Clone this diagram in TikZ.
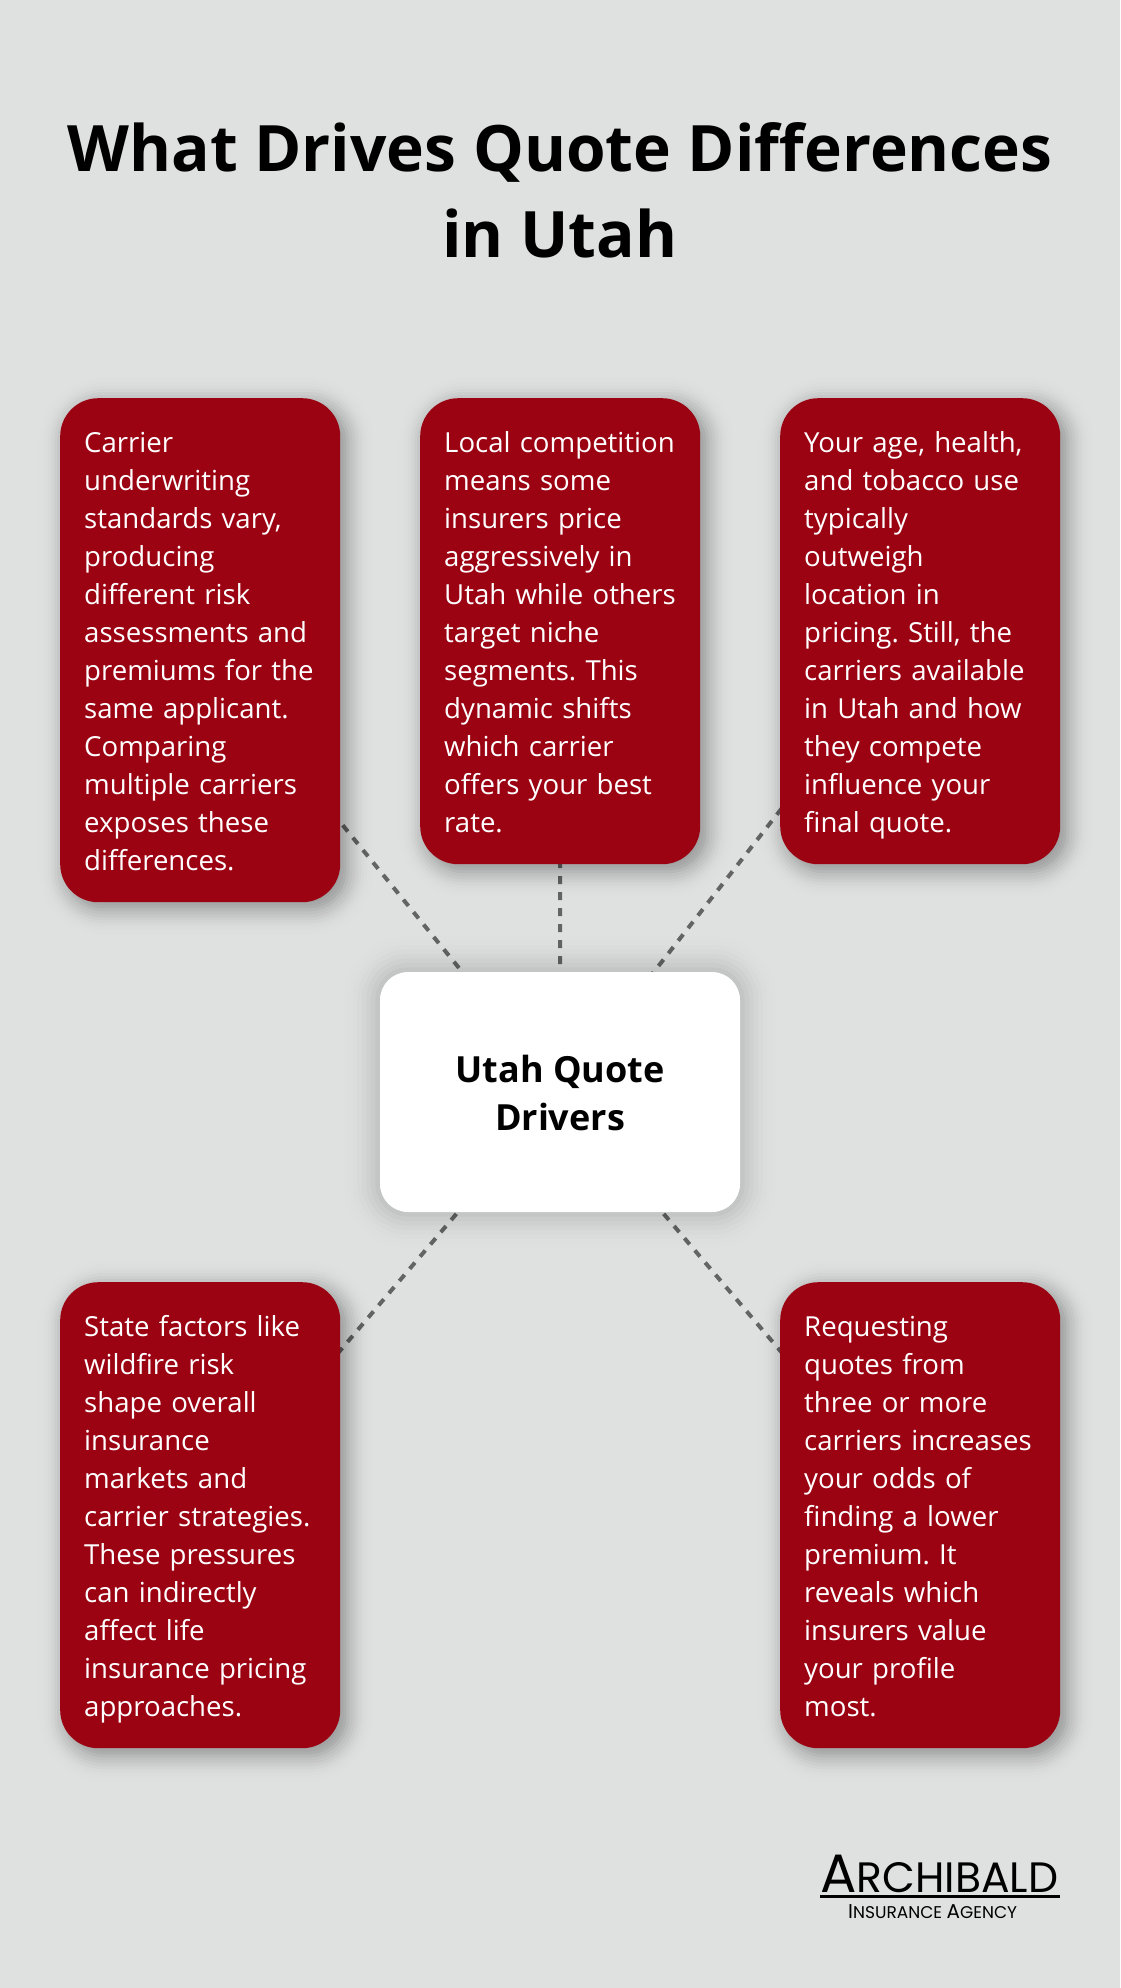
\documentclass[tikz,border=0pt]{standalone}
\usepackage{fontspec}
\setmainfont{Open Sans}
\newfontfamily\logofont{Poppins}
\pgfdeclarelayer{base}
\pgfdeclarelayer{links}
\pgfdeclarelayer{shadows}
\pgfsetlayers{base,links,shadows,main}
\definecolor{bgc}{HTML}{DFE1E0}
\definecolor{cardred}{HTML}{9B0313}
\definecolor{linkc}{HTML}{646464}
\tikzset{
  card/.style={fill=cardred,text=white,rounded corners=38pt,minimum width=280pt,anchor=north west,
    inner xsep=24pt,inner ysep=24pt,text width=232pt,align=left,
    font=\fontsize{27.6}{38}\selectfont,
    execute at begin node={\frenchspacing\rightskip=-20pt plus 1fil\relax\hyphenpenalty=10000\relax\rule{0pt}{30pt}},execute at end node={\rule[-8pt]{0pt}{8pt}}},
  hub/.style={fill=white,text=black,rounded corners=28pt,minimum width=360pt,minimum height=240pt,
    align=center,font=\fontsize{36}{48}\selectfont\bfseries},
  link/.style={draw=linkc,line width=4pt,dash pattern=on 8pt off 8pt},
  titletext/.style={align=center,font=\fontsize{64}{86}\selectfont\bfseries,text=black,inner sep=0pt},
}
\newcommand{\softshadow}[6]{% node, dx, dy, sigma, alpha, radius
  \begin{pgfonlayer}{shadows}
  \foreach \i in {-10,...,10}{
    \pgfmathsetmacro{\ss}{\i*#4*0.25}
    \pgfmathsetmacro{\aa}{#5*exp(-0.5*(0.25*\i)*(0.25*\i))*0.0997}
    \pgfmathsetmacro{\rr}{max(1,#6+\ss)}
    \fill[black,fill opacity=\aa,rounded corners=\rr pt]
      ([shift={(#2-\ss,#3-\ss)}]#1.north west) rectangle ([shift={(#2+\ss,#3+\ss)}]#1.south east);
  }
  \end{pgfonlayer}
}
\begin{document}
\begin{tikzpicture}[x=1pt,y=-1pt]
\begin{pgfonlayer}{base}
\fill[bgc] (0,0) rectangle (1120,1988);
\end{pgfonlayer}
\useasboundingbox (0,0) rectangle (1120,1988);
\node[titletext] (title) at (560,190) {What Drives Quote Differences\\in Utah};
\node[card] (c1) at (60,398) {Carrier\\underwriting\\standards vary,\\producing\\different risk\\assessments and\\premiums for the\\same applicant.\\Comparing\\multiple carriers\\exposes these\\differences.};
\node[card] (c2) at (420,398) {Local competition\\means some\\insurers price\\aggressively in\\Utah while others\\target niche\\segments. This\\dynamic shifts\\which carrier\\offers your best\\rate.};
\node[card] (c3) at (780,398) {Your age, health,\\and tobacco use\\typically\\outweigh\\location in\\pricing. Still, the\\carriers available\\in Utah and how\\they compete\\influence your\\final quote.};
\node[card] (c4) at (60,1282) {State factors like\\wildfire risk\\shape overall\\insurance\\markets and\\carrier strategies.\\These pressures\\can indirectly\\affect life\\insurance pricing\\approaches.};
\node[card] (c5) at (780,1282) {Requesting\\quotes from\\three or more\\carriers increases\\your odds of\\finding a lower\\premium. It\\reveals which\\insurers value\\your profile\\most.};
\node[hub] (hub) at (560,1092) {\rule{0pt}{30pt}Utah Quote\\Drivers};
\foreach \n in {c1,c2,c3,c4,c5}{\softshadow{\n}{6}{6}{12}{0.42}{38}}
\softshadow{hub}{0}{0}{18}{0.24}{28}
\begin{pgfonlayer}{links}
\foreach \n in {c1,c2,c3,c4,c5}{\draw[link] (hub.center) -- (\n.center);}
\end{pgfonlayer}
\node[anchor=base west,inner sep=0pt,font=\logofont\fontsize{54}{54}\selectfont] (logoa) at (820,1892) {A\fontsize{42.5}{42.5}\selectfont RCHIBALD};
\coordinate (rulel) at (820,1896);
\coordinate (ruler) at (1060,1896);
\draw[black,line width=3pt] (rulel) -- (ruler);
\node[anchor=base west,inner sep=0pt,font=\logofont\fontsize{20}{20}\selectfont] (logob) at (848,1918) {I\fontsize{17}{17}\selectfont NSURANCE \fontsize{20}{20}\selectfont A\fontsize{17}{17}\selectfont GENCY};
\end{tikzpicture}
\end{document}
